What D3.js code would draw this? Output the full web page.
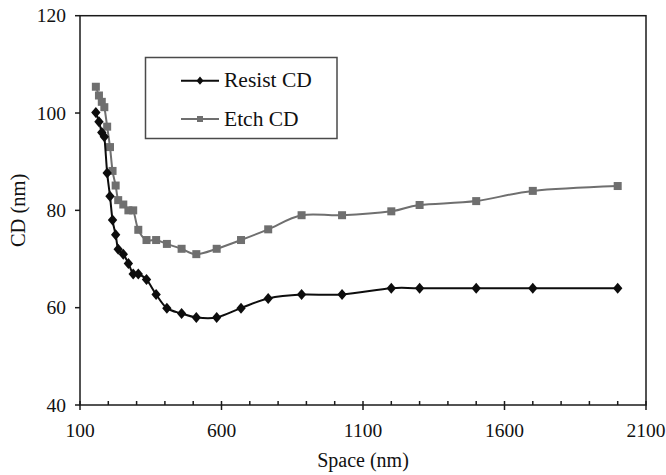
<!DOCTYPE html>
<html>
<head>
<meta charset="utf-8">
<script src="https://cdn.jsdelivr.net/npm/d3@7"></script>
<style>
  html, body { margin: 0; padding: 0; background: #fff; }
  svg { display: block; }
  text { font-family: "Liberation Serif", "Times New Roman", serif; fill: #111; }
</style>
</head>
<body>
<svg id="chart" width="666" height="475"></svg>
<script>
// Space values (nm) shared by both series
const space = [156, 167, 177, 186, 196, 206, 215, 226, 235, 253, 271, 288, 306, 335,
               369, 407, 459, 511, 583, 669, 765, 883, 1026, 1200, 1300, 1500, 1700, 2000];
// Resist CD (nm)
const resistCD = [100.1, 98.2, 96.0, 95.1, 87.7, 82.9, 78.0, 75.0, 72.0, 71.0, 69.1, 66.9, 66.9, 65.8,
                  62.7, 59.9, 58.8, 58.0, 58.0, 59.9, 61.9, 62.7, 62.7, 64.0, 64.0, 64.0, 64.0, 64.0];
// Etch CD (nm)
const etchCD = [105.4, 103.6, 102.3, 101.2, 97.2, 93.0, 88.1, 85.1, 82.1, 81.2, 80.0, 80.0, 76.0, 73.9,
                73.9, 73.1, 72.1, 71.0, 72.1, 73.9, 76.1, 79.0, 79.0, 79.8, 81.1, 81.9, 84.0, 85.0];
const seriesNames = ["Resist CD", "Etch CD"];
const xMajorTicks = [100, 600, 1100, 1600, 2100];
const xMinorTicks = d3.range(200, 2100, 100).filter(v => (v - 100) % 500 !== 0);
const yTicks = [40, 60, 80, 100, 120];

const svg = d3.select("#chart");
const plotL = 80, plotR = 646, plotT = 15.7, plotB = 405;

const x = d3.scaleLinear().domain([100, 2100]).range([plotL, plotR]);
const y = d3.scaleLinear().domain([40, 120]).range([plotB, plotT]);

const axisColor = "#1a1a1a";

// plot frame
svg.append("rect")
  .attr("x", plotL).attr("y", plotT)
  .attr("width", plotR - plotL).attr("height", plotB - plotT)
  .attr("fill", "none").attr("stroke", axisColor).attr("stroke-width", 1.5);

// x axis: major ticks cross the axis, minor ticks point inward
const gx = svg.append("g");
gx.selectAll("line.major").data(xMajorTicks).join("line")
  .attr("class", "major")
  .attr("x1", d => x(d)).attr("x2", d => x(d))
  .attr("y1", plotB - 4).attr("y2", plotB + 5)
  .attr("stroke", axisColor).attr("stroke-width", 1.5);
gx.selectAll("line.minor").data(xMinorTicks).join("line")
  .attr("class", "minor")
  .attr("x1", d => x(d)).attr("x2", d => x(d))
  .attr("y1", plotB - 4).attr("y2", plotB)
  .attr("stroke", axisColor).attr("stroke-width", 1.5);
gx.selectAll("text").data(xMajorTicks).join("text")
  .attr("x", d => x(d)).attr("y", plotB + 32)
  .attr("text-anchor", "middle")
  .attr("font-size", 19.5)
  .text(d => d);

// y axis
const gy = svg.append("g");
gy.selectAll("line").data(yTicks).join("line")
  .attr("x1", plotL - 5).attr("x2", plotL)
  .attr("y1", d => y(d)).attr("y2", d => y(d))
  .attr("stroke", axisColor).attr("stroke-width", 1.5);
gy.selectAll("text").data(yTicks).join("text")
  .attr("x", plotL - 14).attr("y", d => y(d) + 6.5)
  .attr("text-anchor", "end")
  .attr("font-size", 19.5)
  .text(d => d);

// axis titles
svg.append("text")
  .attr("x", (plotL + plotR) / 2).attr("y", 467)
  .attr("text-anchor", "middle").attr("font-size", 20)
  .text("Space (nm)");
svg.append("text")
  .attr("transform", `translate(25, ${(plotT + plotB) / 2}) rotate(-90)`)
  .attr("text-anchor", "middle").attr("font-size", 20.5)
  .text("CD (nm)");

// series
const styles = [
  { values: resistCD, color: "#0d0d0d", marker: "diamond", width: 2 },
  { values: etchCD, color: "#6f6f6f", marker: "square", width: 2 }
];

const line = d3.line()
  .x(d => x(d[0])).y(d => y(d[1]))
  .curve(d3.curveCardinal.tension(0));

const diamond = s => `M0,${-s}L${s * 0.85},0L0,${s}L${-s * 0.85},0Z`;

function drawMarker(g, type, color, cx, cy, scale) {
  if (type === "diamond") {
    g.append("path").attr("d", diamond(5.5 * scale))
      .attr("transform", `translate(${cx},${cy})`)
      .attr("fill", color);
  } else {
    const s = 8 * scale;
    g.append("rect").attr("x", cx - s / 2).attr("y", cy - s / 2)
      .attr("width", s).attr("height", s).attr("fill", color);
  }
}

// etch first so the resist series sits on top
[1, 0].forEach(i => {
  const st = styles[i];
  const pts = space.map((s, k) => [s, st.values[k]]);
  const g = svg.append("g");
  g.append("path").datum(pts)
    .attr("d", line)
    .attr("fill", "none").attr("stroke", st.color).attr("stroke-width", st.width);
  pts.forEach(p => drawMarker(g, st.marker, st.color, x(p[0]), y(p[1]), 1));
});

// legend
const lg = svg.append("g");
lg.append("rect")
  .attr("x", 145.5).attr("y", 57.5).attr("width", 191.5).attr("height", 81)
  .attr("fill", "#fff").attr("stroke", "#4a4a4a").attr("stroke-width", 1.5);
const legendRows = [80.7, 119];
seriesNames.forEach((name, i) => {
  const st = styles[i];
  const ly = legendRows[i];
  lg.append("line").attr("x1", 181).attr("x2", 219).attr("y1", ly).attr("y2", ly)
    .attr("stroke", st.color).attr("stroke-width", st.width);
  drawMarker(lg, st.marker, st.color, 200, ly, 0.75);
  lg.append("text").attr("x", 224).attr("y", ly + 6.5)
    .attr("font-size", 21.5).text(name);
});
</script>
</body>
</html>
